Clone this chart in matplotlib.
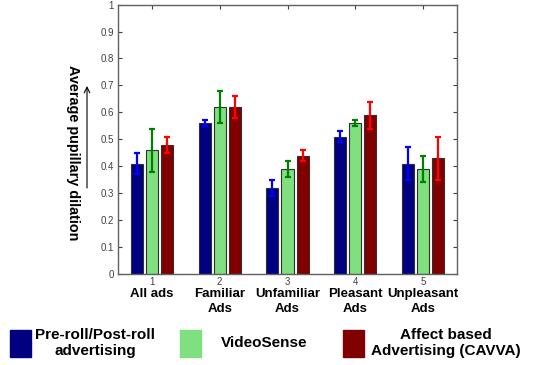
import numpy as np
import matplotlib.pyplot as plt
from matplotlib.patches import Rectangle

# ---- data ----
groups = [1, 2, 3, 4, 5]
categories = ['All ads', 'Familiar\nAds', 'Unfamiliar\nAds', 'Pleasant\nAds', 'Unpleasant\nAds']
preroll = [0.41, 0.56, 0.32, 0.51, 0.41]
preroll_err = [0.04, 0.01, 0.03, 0.02, 0.06]
videosense = [0.46, 0.62, 0.39, 0.56, 0.39]
videosense_err = [0.08, 0.06, 0.03, 0.01, 0.05]
cavva = [0.48, 0.62, 0.44, 0.59, 0.43]
cavva_err = [0.03, 0.04, 0.02, 0.05, 0.08]
yticks = [0, 0.1, 0.2, 0.3, 0.4, 0.5, 0.6, 0.7, 0.8, 0.9, 1]
ytick_labels = ['0', '0.1', '0.2', '0.3', '0.4', '0.5', '0.6', '0.7', '0.8', '0.9', '1']
legend_labels = ['Pre-roll/Post-roll\nadvertising', 'VideoSense', 'Affect based\nAdvertising (CAVVA)']

bar_colors = ['#000080', '#80e080', '#800000']
err_colors = ['#0000ff', '#008000', '#ff0000']

plt.rcParams['font.family'] = ['Liberation Sans', 'DejaVu Sans']

fig = plt.figure(figsize=(5.58, 3.65), dpi=100)
ax = fig.add_axes([0.2115, 0.249, 0.6075, 0.7385])

x = np.array(groups, dtype=float)
offset = 0.222
width = 0.178
series = [(preroll, preroll_err), (videosense, videosense_err), (cavva, cavva_err)]
for i, (vals, errs) in enumerate(series):
    xs = x + (i - 1) * offset
    ax.bar(xs, vals, width, color=bar_colors[i], edgecolor='#303030', lw=0.8, zorder=2)
    ax.errorbar(xs, vals, yerr=errs, fmt='none', ecolor=err_colors[i],
                elinewidth=1.6, capsize=2.5, capthick=1.6, zorder=3)

ax.set_xlim(0.5, 5.5)
ax.set_ylim(0, 1)
ax.set_xticks(groups)
ax.set_xticklabels([str(g) for g in groups])
ax.set_yticks(yticks)
ax.set_yticklabels(ytick_labels)
ax.tick_params(direction='in', length=3, width=0.8, top=True, right=True,
               labelsize=7, labelcolor='#404040', color='#404040', pad=3)
ax.tick_params(axis='x', pad=2)
for s in ax.spines.values():
    s.set_color('#606060')
    s.set_linewidth(1.0)

# category names under the numeric ticks
for g, name in zip(groups, categories):
    ax.text(g, -0.052, name, transform=ax.get_xaxis_transform(), ha='center', va='top',
            fontsize=9.5, fontweight='bold', linespacing=1.3)

# rotated y label with an up arrow
fig.text(73 / 558, 1 - 153 / 365, 'Average pupillary dilation', rotation=-90,
         ha='center', va='center', fontsize=10.4, fontweight='bold')
fig.add_artist(plt.Annotation('', xy=(87 / 558, 1 - 86 / 365), xytext=(87 / 558, 1 - 188 / 365),
                              xycoords='figure fraction', textcoords='figure fraction',
                              arrowprops=dict(arrowstyle='->', lw=0.8, color='black',
                                              shrinkA=0, shrinkB=0)))

# legend drawn below the axes
patch_x = [10, 180, 343]
text_x = [95, 264, 446]
for i in range(3):
    fig.add_artist(Rectangle((patch_x[i] / 558, 1 - 357 / 365), 21 / 558, 27 / 365,
                             transform=fig.transFigure, color=bar_colors[i]))
    fig.text(text_x[i] / 558, 1 - 343 / 365, legend_labels[i], ha='center', va='center',
             fontsize=11, fontweight='bold', linespacing=1.25)

fig.savefig('out.png', dpi=100)
